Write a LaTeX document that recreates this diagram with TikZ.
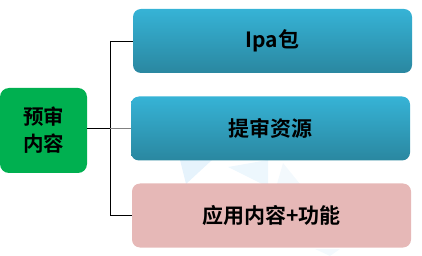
\documentclass[tikz,border=0pt]{standalone}
\usepackage{fontspec}
\newfontfamily\cjk{Noto Sans CJK SC}[BoldFont={Noto Sans CJK SC Bold}]
\usetikzlibrary{positioning}
\begin{document}
\begin{tikzpicture}[x=1pt,y=-1pt,
  box/.style={rounded corners=8pt,minimum width=279pt,minimum height=64pt,inner sep=0pt,font=\cjk\bfseries\fontsize{21}{25}\selectfont},
  bluebox/.style={box,top color=boxtop,bottom color=boxbot},
  pinkbox/.style={box,fill=boxpink},
  conn/.style={line width=0.8pt,black}]
\definecolor{boxtop}{HTML}{36B3D6}
\definecolor{boxbot}{HTML}{2A87A0}
\definecolor{boxpink}{HTML}{E6B8B7}
\definecolor{boxgreen}{HTML}{00B050}
\definecolor{wm}{HTML}{E6F3FC}
\useasboundingbox (0,0) rectangle (422,256);
% faint watermark
\fill[wm] (180,160) -- (212,160) -- (186,184) -- cycle;
\fill[wm!70] (228,167) -- (268,160) -- (268,184) -- (262,184) -- cycle;
\fill[wm!50] (283,163) -- (300,184) -- (277,184) -- cycle;
\fill[wm!50] (315,249) -- (340,249) -- (330,256) -- cycle;
% nodes
\node[rounded corners=9pt,fill=boxgreen,minimum width=87pt,minimum height=85pt,inner sep=0pt,
  align=center,font=\cjk\bfseries\fontsize{20.5}{27}\selectfont] (root) at (43.5,130.5) {预审\\内容};
\node[bluebox] (a) at (272.5,41) {Ipa包};
\node[bluebox] (b) at (270.5,128.5) {提审资源};
\node[pinkbox] (c) at (271.5,215.5) {应用内容+功能};
\coordinate (j) at (110,128.5);
\draw[conn] (root.east |- j) -- (j);
\draw[conn] (j |- a.west) -- (j |- c.west);
\draw[conn] (j |- a.west) -- (a.west);
\draw[conn] (j |- c.west) -- (c.west);
\draw[line width=1pt,gray] (j) -- (b.west);
\end{tikzpicture}
\end{document}
